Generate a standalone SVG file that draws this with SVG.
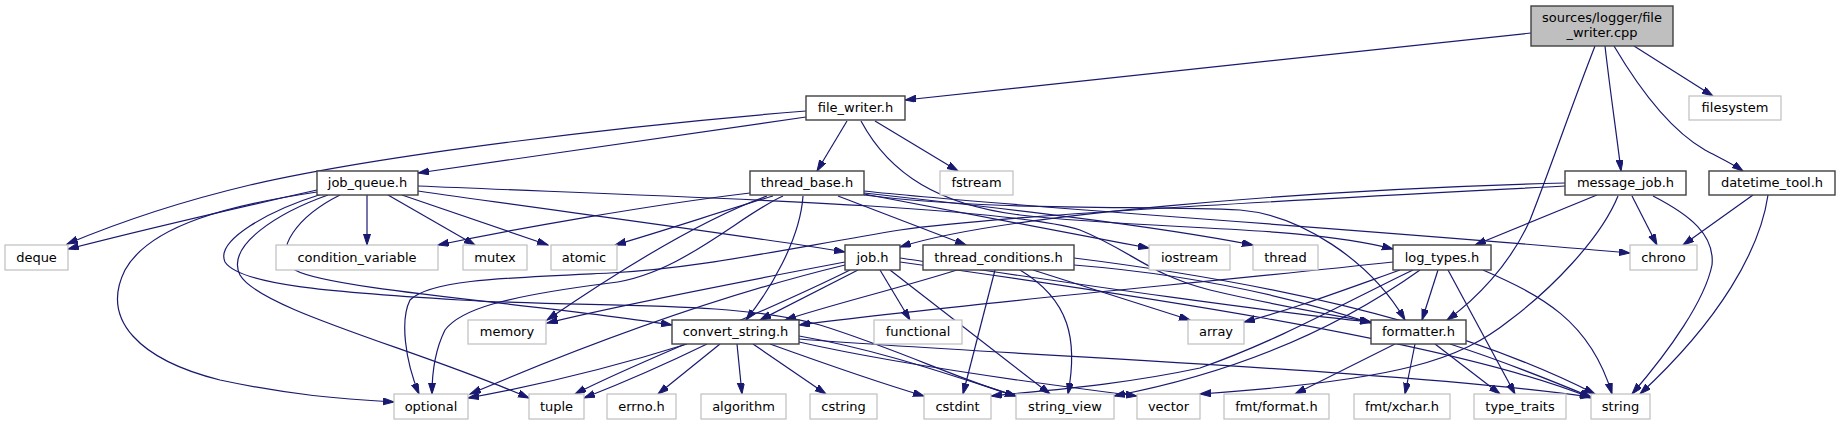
<svg xmlns="http://www.w3.org/2000/svg" width="1841" height="425" viewBox="0 0 1841 425">
<defs>
<style>
.n rect{fill:#fff;stroke:#bfbfbf;stroke-width:1.2}
.d rect{fill:#fff;stroke:#404040;stroke-width:1.4}
.r rect{fill:#bfbfbf;stroke:#404040;stroke-width:1.4}
text{font-family:"DejaVu Sans","Liberation Sans",sans-serif;font-size:13px;fill:#000;text-anchor:middle}
#edges path{fill:none;stroke:#191970;stroke-width:1.2;marker-end:url(#a)}
</style>
<marker id="a" markerWidth="12" markerHeight="8" refX="11" refY="3.5" orient="auto" markerUnits="userSpaceOnUse"><path d="M0,0 L11,3.5 L0,7 z" fill="#191970" stroke="#191970" stroke-width="1"/></marker>
</defs>
<rect width="1841" height="425" fill="#fff"/>
<g id="edges">
<path d="M1531,33 L905,100"/>
<path d="M1634,46 L1713,96"/>
<path d="M1605,46 C1610,90 1616,130 1621,171"/>
<path d="M1614,46 C1640,90 1670,130 1705,150 C1720,158 1733,164 1743,171"/>
<path d="M1595,46 C1570,110 1548,175 1530,220 C1510,265 1475,300 1447,320"/>
<path d="M806,117 L418,173"/>
<path d="M806,111 C620,126 380,155 250,185 C170,204 110,226 67,244"/>
<path d="M847,121 L817,171"/>
<path d="M875,121 L958,171"/>
<path d="M861,121 C890,175 940,205 1020,215 C1150,230 1300,225 1393,249"/>
<path d="M317,190 C250,205 150,228 68,249"/>
<path d="M367,195 L367,245"/>
<path d="M388,195 L475,245"/>
<path d="M402,195 L548,245"/>
<path d="M418,191 C550,210 750,236 845,252"/>
<path d="M418,186 C650,196 1000,205 1080,230 C1130,250 1150,275 1210,290 C1260,302 1320,313 1371,322"/>
<path d="M340,195 C300,215 270,250 295,270 C330,290 550,305 672,325"/>
<path d="M328,195 C280,212 225,245 240,275 C260,310 420,350 529,398"/>
<path d="M322,194 C270,210 215,240 225,262 C240,285 330,292 460,300 C600,308 730,300 820,325 C900,350 960,380 1016,396"/>
<path d="M317,192 C230,205 150,225 125,270 C100,320 140,360 220,380 C290,395 340,399 394,402"/>
<path d="M750,193 C650,205 520,228 438,245"/>
<path d="M767,196 C700,220 620,270 547,320"/>
<path d="M773,196 C720,212 660,232 615,245"/>
<path d="M783,196 C740,215 680,275 610,283 C500,297 460,310 445,330 C435,350 432,375 432,394"/>
<path d="M803,196 C800,240 770,290 746,320"/>
<path d="M838,196 L966,245"/>
<path d="M864,194 C950,210 1050,230 1149,248"/>
<path d="M864,193 C1000,208 1150,225 1253,245"/>
<path d="M864,191 C1000,206 1350,228 1630,253"/>
<path d="M864,195 C1000,212 1150,205 1240,210 C1300,215 1370,260 1405,320"/>
<path d="M1565,183 C1300,190 1000,215 900,247"/>
<path d="M1565,186 C1300,200 1000,215 900,230 C780,250 700,268 610,273 C500,278 430,280 410,300 C400,320 405,360 419,394"/>
<path d="M1597,195 L1475,245"/>
<path d="M1632,196 L1657,245"/>
<path d="M1653,196 C1690,215 1715,235 1712,265 C1705,300 1670,350 1632,394"/>
<path d="M1618,196 C1600,240 1550,290 1510,320 C1460,360 1400,380 1200,394"/>
<path d="M1753,195 L1683,245"/>
<path d="M1768,195 C1760,250 1720,320 1640,394"/>
<path d="M858,270 L760,320"/>
<path d="M880,270 L910,320"/>
<path d="M845,262 C750,280 620,305 547,323"/>
<path d="M845,265 C700,300 550,360 470,394"/>
<path d="M850,270 C750,320 640,360 575,394"/>
<path d="M890,270 L1050,394"/>
<path d="M900,262 C1100,290 1450,340 1591,398"/>
<path d="M900,258 C1050,280 1250,310 1371,322"/>
<path d="M957,270 C900,288 830,305 785,320"/>
<path d="M995,270 L963,394"/>
<path d="M1020,270 C1070,300 1078,340 1068,394"/>
<path d="M1033,270 L1190,320"/>
<path d="M1074,265 C1200,275 1300,300 1371,323"/>
<path d="M1074,258 C1250,280 1450,320 1595,394"/>
<path d="M1393,262 C1200,283 950,305 799,325"/>
<path d="M1400,270 C1330,295 1290,310 1244,322"/>
<path d="M1438,270 L1422,320"/>
<path d="M1413,270 C1350,300 1280,340 1200,368 C1120,385 1050,390 991,396"/>
<path d="M1420,270 C1350,320 1250,370 1114,396"/>
<path d="M1448,270 L1515,394"/>
<path d="M1483,270 C1540,295 1590,320 1612,394"/>
<path d="M1395,344 L1295,394"/>
<path d="M1415,344 L1405,394"/>
<path d="M1435,344 L1500,394"/>
<path d="M1450,344 C1500,360 1550,380 1591,397"/>
<path d="M687,344 C620,365 540,385 468,398"/>
<path d="M707,344 C670,362 630,380 584,398"/>
<path d="M720,344 L658,394"/>
<path d="M737,344 L742,394"/>
<path d="M753,344 L826,394"/>
<path d="M770,344 C820,362 870,380 924,396"/>
<path d="M799,336 C880,350 950,375 1016,396"/>
<path d="M799,342 C900,365 1050,385 1137,396"/>
<path d="M799,339 C1000,355 1400,370 1591,397"/>
</g>
<g id="root" class="r"><rect x="1531" y="6" width="142" height="40"/><text x="1602" y="21.5">sources/logger/file</text><text x="1602" y="36.5">_writer.cpp</text></g>
<g id="file_writer_h" class="d"><rect x="806" y="96" width="99" height="24"/><text x="855.5" y="112">file_writer.h</text></g>
<g id="filesystem" class="n"><rect x="1689" y="96" width="92" height="24"/><text x="1735" y="112">filesystem</text></g>
<g id="job_queue_h" class="d"><rect x="317" y="171" width="101" height="24"/><text x="367.5" y="187">job_queue.h</text></g>
<g id="thread_base_h" class="d"><rect x="750" y="171" width="114" height="24"/><text x="807" y="187">thread_base.h</text></g>
<g id="fstream" class="n"><rect x="940" y="171" width="73" height="24"/><text x="976.5" y="187">fstream</text></g>
<g id="message_job_h" class="d"><rect x="1565" y="171" width="121" height="24"/><text x="1625.5" y="187">message_job.h</text></g>
<g id="datetime_tool_h" class="d"><rect x="1709" y="171" width="126" height="24"/><text x="1772" y="187">datetime_tool.h</text></g>
<g id="deque" class="n"><rect x="5" y="245" width="63" height="25"/><text x="36.5" y="262">deque</text></g>
<g id="condition_variable" class="n"><rect x="276" y="245" width="162" height="25"/><text x="357" y="262">condition_variable</text></g>
<g id="mutex" class="n"><rect x="463" y="245" width="64" height="25"/><text x="495" y="262">mutex</text></g>
<g id="atomic" class="n"><rect x="551" y="245" width="66" height="25"/><text x="584" y="262">atomic</text></g>
<g id="job_h" class="d"><rect x="845" y="245" width="55" height="25"/><text x="872.5" y="262">job.h</text></g>
<g id="thread_conditions_h" class="d"><rect x="923" y="245" width="151" height="25"/><text x="998.5" y="262">thread_conditions.h</text></g>
<g id="iostream" class="n"><rect x="1149" y="245" width="81" height="25"/><text x="1189.5" y="262">iostream</text></g>
<g id="thread" class="n"><rect x="1253" y="245" width="65" height="25"/><text x="1285.5" y="262">thread</text></g>
<g id="log_types_h" class="d"><rect x="1393" y="245" width="98" height="25"/><text x="1442" y="262">log_types.h</text></g>
<g id="chrono" class="n"><rect x="1630" y="245" width="67" height="25"/><text x="1663.5" y="262">chrono</text></g>
<g id="memory" class="n"><rect x="468" y="320" width="78" height="24"/><text x="507" y="336">memory</text></g>
<g id="convert_string_h" class="d"><rect x="672" y="320" width="127" height="24"/><text x="735.5" y="336">convert_string.h</text></g>
<g id="functional" class="n"><rect x="874" y="320" width="88" height="24"/><text x="918" y="336">functional</text></g>
<g id="array" class="n"><rect x="1188" y="320" width="56" height="24"/><text x="1216" y="336">array</text></g>
<g id="formatter_h" class="d"><rect x="1371" y="320" width="95" height="24"/><text x="1418.5" y="336">formatter.h</text></g>
<g id="optional" class="n"><rect x="394" y="394" width="74" height="25"/><text x="431" y="411">optional</text></g>
<g id="tuple" class="n"><rect x="529" y="394" width="55" height="25"/><text x="556.5" y="411">tuple</text></g>
<g id="errno_h" class="n"><rect x="607" y="394" width="69" height="25"/><text x="641.5" y="411">errno.h</text></g>
<g id="algorithm" class="n"><rect x="701" y="394" width="85" height="25"/><text x="743.5" y="411">algorithm</text></g>
<g id="cstring" class="n"><rect x="810" y="394" width="67" height="25"/><text x="843.5" y="411">cstring</text></g>
<g id="cstdint" class="n"><rect x="924" y="394" width="67" height="25"/><text x="957.5" y="411">cstdint</text></g>
<g id="string_view" class="n"><rect x="1016" y="394" width="98" height="25"/><text x="1065" y="411">string_view</text></g>
<g id="vector" class="n"><rect x="1137" y="394" width="63" height="25"/><text x="1168.5" y="411">vector</text></g>
<g id="fmt_format_h" class="n"><rect x="1224" y="394" width="105" height="25"/><text x="1276.5" y="411">fmt/format.h</text></g>
<g id="fmt_xchar_h" class="n"><rect x="1354" y="394" width="96" height="25"/><text x="1402" y="411">fmt/xchar.h</text></g>
<g id="type_traits" class="n"><rect x="1474" y="394" width="92" height="25"/><text x="1520" y="411">type_traits</text></g>
<g id="string" class="n"><rect x="1591" y="394" width="59" height="25"/><text x="1620.5" y="411">string</text></g>
</svg>
